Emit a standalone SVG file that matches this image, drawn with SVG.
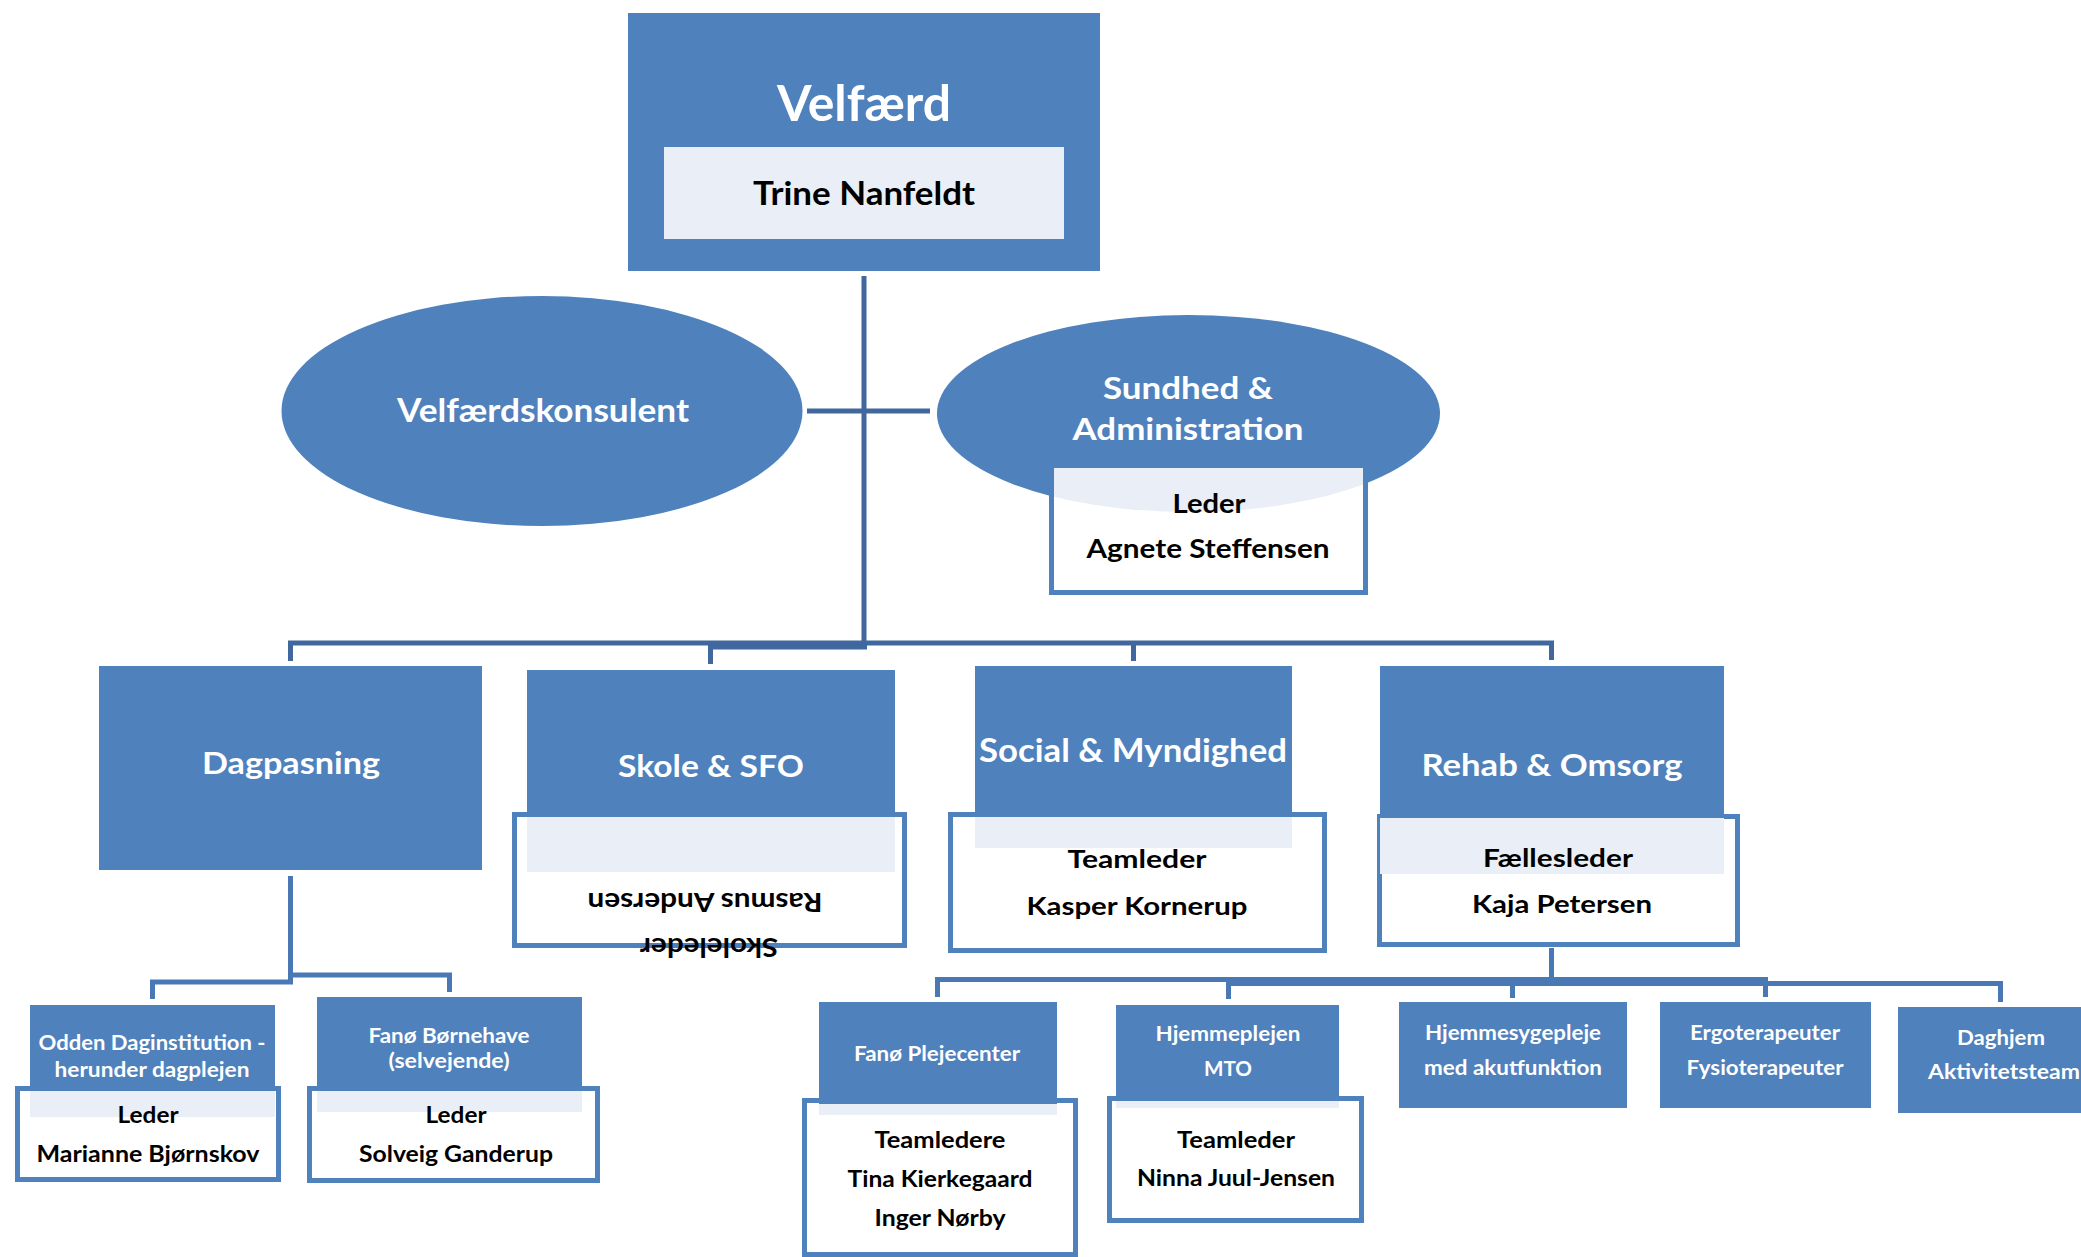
<svg xmlns="http://www.w3.org/2000/svg" width="2081" height="1257" viewBox="0 0 2081 1257">
  <defs>
    <style>
      .blue{fill:#4F81BD}
      .light{fill:#E9EEF7}
      .frame{fill:#FFFFFF;stroke:#4F81BD;stroke-width:5}
      .frameline{fill:none;stroke:#4F81BD;stroke-width:5}
      .c1{fill:none;stroke:#40679E;stroke-width:5}
      .c2{fill:none;stroke:#4A78B5;stroke-width:5}
      text{font-family:"Lato","Open Sans","DejaVu Sans",sans-serif;font-weight:bold;text-anchor:middle}
      .w{fill:#FFFFFF}
      .k{fill:#000000}
    </style>
    <clipPath id="clipSA">
      <rect x="1054" y="468" width="309" height="122"/>
    </clipPath>
  </defs>
  <rect x="0" y="0" width="2081" height="1257" fill="#FFFFFF"/>

  <g id="connectors">
    <path class="c1" d="M864,276 V648"/>
    <path class="c1" d="M807,411 H930"/>
    <path class="c1" d="M290.5,661 V643 H1551.5 V660"/>
    <path class="c1" d="M1133.5,643 V661"/>
    <path class="c1" d="M867,647 H710.5 V664"/>
    <path class="c2" d="M290.5,876 V982 H152.5 V999"/>
    <path class="c2" d="M290.5,975 H449.5 V992"/>
    <path class="c2" d="M1551.5,948 V984"/>
    <path d="M1551.5,880 V944" stroke="#E3EAF4" stroke-width="5" fill="none"/>
    <path class="c2" d="M937.5,997 V979.5 H1765.5 V997"/>
    <path class="c2" d="M1512.5,979.5 V998"/>
    <path class="c2" d="M1228.5,999 V983.5 H2000.5 V1002"/>
  </g>

  <g id="velfaerd">
    <rect class="blue" x="628" y="13" width="472" height="258"/>
    <rect class="light" x="664" y="147" width="400" height="92"/>
    <text class="w" x="864" y="121" font-size="49" textLength="174" lengthAdjust="spacingAndGlyphs">Velfærd</text>
    <text class="k" x="864" y="205" font-size="32" textLength="222" lengthAdjust="spacingAndGlyphs">Trine Nanfeldt</text>
  </g>

  <g id="velfaerdskonsulent">
    <ellipse class="blue" cx="542" cy="411" rx="260.5" ry="115"/>
    <text class="w" x="543" y="422" font-size="32" textLength="292" lengthAdjust="spacingAndGlyphs">Velfærdskonsulent</text>
  </g>

  <g id="sundhed-administration">
    <ellipse class="blue" cx="1188.5" cy="413.5" rx="251.5" ry="98.5"/>
    <rect x="1051.5" y="465.5" width="314" height="127" fill="#FFFFFF"/>
    <ellipse class="light" cx="1188.5" cy="413.5" rx="251.5" ry="98.5" clip-path="url(#clipSA)"/>
    <rect class="frameline" x="1051.5" y="465.5" width="314" height="127"/>
    <text class="w" x="1188" y="399" font-size="30" textLength="170" lengthAdjust="spacingAndGlyphs">Sundhed &amp;</text>
    <text class="w" x="1188" y="440" font-size="30" textLength="231" lengthAdjust="spacingAndGlyphs">Administration</text>
    <text class="k" x="1209" y="513" font-size="26" textLength="73" lengthAdjust="spacingAndGlyphs">Leder</text>
    <text class="k" x="1208" y="558" font-size="26" textLength="243" lengthAdjust="spacingAndGlyphs">Agnete Steffensen</text>
  </g>

  <g id="dagpasning">
    <rect class="blue" x="99" y="666" width="383" height="204"/>
    <text class="w" x="291" y="774" font-size="31" textLength="178" lengthAdjust="spacingAndGlyphs">Dagpasning</text>
  </g>

  <g id="skole-sfo">
    <rect class="frame" x="514.5" y="814.5" width="390" height="131"/>
    <rect class="blue" x="527" y="670" width="368" height="147"/>
    <rect class="light" x="527" y="817" width="368" height="55"/>
    <text class="w" x="711" y="777" font-size="31" textLength="186" lengthAdjust="spacingAndGlyphs">Skole &amp; SFO</text>
    <text class="k" transform="translate(705,893) rotate(180)" x="0" y="0" font-size="26" textLength="235" lengthAdjust="spacingAndGlyphs">Rasmus Andersen</text>
    <text class="k" transform="translate(709,938) rotate(180)" x="0" y="0" font-size="26" textLength="138" lengthAdjust="spacingAndGlyphs">Skoleleder</text>
  </g>

  <g id="social-myndighed">
    <rect class="frame" x="950.5" y="814.5" width="374" height="136"/>
    <rect class="blue" x="975" y="666" width="317" height="151"/>
    <rect class="light" x="975" y="817" width="317" height="31"/>
    <text class="w" x="1133" y="762" font-size="32" textLength="308" lengthAdjust="spacingAndGlyphs">Social &amp; Myndighed</text>
    <text class="k" x="1137" y="868" font-size="25" textLength="139" lengthAdjust="spacingAndGlyphs">Teamleder</text>
    <text class="k" x="1137" y="915" font-size="25" textLength="221" lengthAdjust="spacingAndGlyphs">Kasper Kornerup</text>
  </g>

  <g id="rehab-omsorg">
    <rect class="frame" x="1379.5" y="816.5" width="358" height="128"/>
    <rect class="blue" x="1380" y="666" width="344" height="152"/>
    <rect class="light" x="1380" y="818" width="344" height="56"/>
    <text class="w" x="1552" y="776" font-size="31" textLength="261" lengthAdjust="spacingAndGlyphs">Rehab &amp; Omsorg</text>
    <text class="k" x="1558" y="867" font-size="25" textLength="150" lengthAdjust="spacingAndGlyphs">Fællesleder</text>
    <text class="k" x="1562" y="913" font-size="25" textLength="180" lengthAdjust="spacingAndGlyphs">Kaja Petersen</text>
  </g>

  <g id="odden">
    <rect class="frame" x="17.5" y="1088.5" width="261" height="91"/>
    <rect class="blue" x="30" y="1005" width="245" height="86"/>
    <rect class="light" x="30" y="1091" width="245" height="26"/>
    <text class="w" x="152" y="1050" font-size="20" textLength="227" lengthAdjust="spacingAndGlyphs">Odden Daginstitution -</text>
    <text class="w" x="152" y="1077" font-size="20" textLength="195" lengthAdjust="spacingAndGlyphs">herunder dagplejen</text>
    <text class="k" x="148" y="1123" font-size="23" textLength="61" lengthAdjust="spacingAndGlyphs">Leder</text>
    <text class="k" x="148" y="1162" font-size="23" textLength="223" lengthAdjust="spacingAndGlyphs">Marianne Bjørnskov</text>
  </g>

  <g id="fanoe-boernehave">
    <rect class="frame" x="309.5" y="1088.5" width="288" height="92"/>
    <rect class="blue" x="317" y="997" width="265" height="94"/>
    <rect class="light" x="317" y="1091" width="265" height="21"/>
    <text class="w" x="449" y="1043" font-size="20" textLength="161" lengthAdjust="spacingAndGlyphs">Fanø Børnehave</text>
    <text class="w" x="449" y="1068" font-size="20" textLength="121" lengthAdjust="spacingAndGlyphs">(selvejende)</text>
    <text class="k" x="456" y="1123" font-size="23" textLength="61" lengthAdjust="spacingAndGlyphs">Leder</text>
    <text class="k" x="456" y="1162" font-size="23" textLength="194" lengthAdjust="spacingAndGlyphs">Solveig Ganderup</text>
  </g>

  <g id="fanoe-plejecenter">
    <rect class="frame" x="804.5" y="1100.5" width="271" height="154"/>
    <rect class="blue" x="819" y="1002" width="238" height="102"/>
    <rect class="light" x="819" y="1104" width="238" height="11"/>
    <text class="w" x="937" y="1061" font-size="20" textLength="166" lengthAdjust="spacingAndGlyphs">Fanø Plejecenter</text>
    <text class="k" x="940" y="1148" font-size="23" textLength="131" lengthAdjust="spacingAndGlyphs">Teamledere</text>
    <text class="k" x="940" y="1187" font-size="23" textLength="185" lengthAdjust="spacingAndGlyphs">Tina Kierkegaard</text>
    <text class="k" x="940" y="1226" font-size="23" textLength="131" lengthAdjust="spacingAndGlyphs">Inger Nørby</text>
  </g>

  <g id="hjemmeplejen">
    <rect class="frame" x="1109.5" y="1098.5" width="252" height="122"/>
    <rect class="blue" x="1116" y="1005" width="223" height="96"/>
    <rect class="light" x="1116" y="1101" width="223" height="7"/>
    <text class="w" x="1228" y="1041" font-size="20" textLength="145" lengthAdjust="spacingAndGlyphs">Hjemmeplejen</text>
    <text class="w" x="1228" y="1076" font-size="20" textLength="48" lengthAdjust="spacingAndGlyphs">MTO</text>
    <text class="k" x="1236" y="1148" font-size="23" textLength="118" lengthAdjust="spacingAndGlyphs">Teamleder</text>
    <text class="k" x="1236" y="1186" font-size="23" textLength="198" lengthAdjust="spacingAndGlyphs">Ninna Juul-Jensen</text>
  </g>

  <g id="hjemmesygepleje">
    <rect class="blue" x="1399" y="1002" width="228" height="106"/>
    <text class="w" x="1513" y="1040" font-size="20" textLength="176" lengthAdjust="spacingAndGlyphs">Hjemmesygepleje</text>
    <text class="w" x="1513" y="1075" font-size="20" textLength="178" lengthAdjust="spacingAndGlyphs">med akutfunktion</text>
  </g>

  <g id="terapeuter">
    <rect class="blue" x="1660" y="1002" width="211" height="106"/>
    <text class="w" x="1765" y="1040" font-size="20" textLength="150" lengthAdjust="spacingAndGlyphs">Ergoterapeuter</text>
    <text class="w" x="1765" y="1075" font-size="20" textLength="157" lengthAdjust="spacingAndGlyphs">Fysioterapeuter</text>
  </g>

  <g id="daghjem">
    <rect class="blue" x="1898" y="1007" width="183" height="106"/>
    <text class="w" x="2001" y="1045" font-size="20" textLength="88" lengthAdjust="spacingAndGlyphs">Daghjem</text>
    <text class="w" x="2004" y="1079" font-size="20" textLength="152" lengthAdjust="spacingAndGlyphs">Aktivitetsteam</text>
  </g>
</svg>
